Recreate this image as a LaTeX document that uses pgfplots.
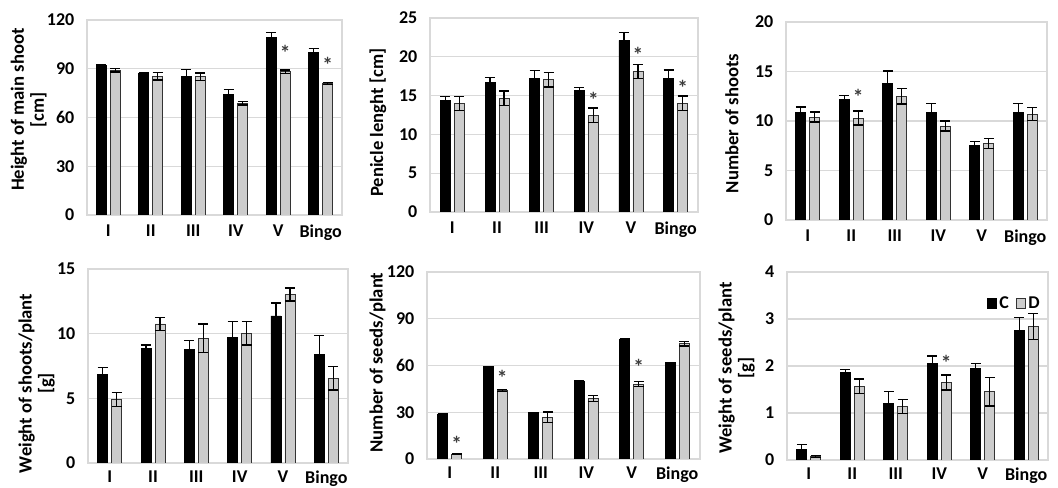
\documentclass[border=0pt]{standalone}
\usepackage{fontspec}
\setmainfont{Carlito}
\usepackage{pgfplots}
\usepackage{pgfplotstable}
\pgfplotsset{compat=1.18}
\definecolor{dgrey}{RGB}{204,204,204}
\definecolor{gridc}{RGB}{217,217,217}
\definecolor{starc}{RGB}{60,60,60}

\pgfplotstableread{
x c ce d de
0 92 0.5 89 1.0
1 87 0.3 85.4 2.3
2 85.5 4 85 2.3
3 74.3 3 68.7 1
4 109.1 3.3 88.2 1.1
5 99.9 2.5 81 0.6
}\tA
\pgfplotstableread{
x c ce d de
0 14.4 0.5 14.0 0.9
1 16.7 0.65 14.65 0.95
2 17.2 1.0 17.05 0.95
3 15.7 0.35 12.45 0.95
4 22.1 1.0 18.1 0.9
5 17.2 1.1 14.0 0.95
}\tB
\pgfplotstableread{
x c ce d de
0 10.9 0.5 10.4 0.5
1 12.2 0.35 10.3 0.7
2 13.8 1.25 12.5 0.8
3 10.9 0.85 9.5 0.5
4 7.5 0.4 7.7 0.5
5 10.9 0.85 10.7 0.65
}\tC
\pgfplotstableread{
x c ce d de
0 6.88 0.5 4.9 0.55
1 8.87 0.25 10.75 0.5
2 8.8 0.67 9.65 1.1
3 9.7 1.24 10.03 0.9
4 11.38 1.0 13.03 0.5
5 8.4 1.45 6.55 0.9
}\tD
\pgfplotstableread{
x c ce d de
0 29 0 3.2 0.5
1 59.3 0 43.9 0.7
2 30 0 26.8 3.3
3 50.1 0 39 1.9
4 77 0 48.1 1.6
5 62 0 73.9 1.4
}\tE
\pgfplotstableread{
x c ce d de
0 0.23 0.1 0.07 0.02
1 1.87 0.06 1.57 0.15
2 1.2 0.26 1.14 0.15
3 2.05 0.16 1.65 0.16
4 1.95 0.1 1.45 0.3
5 2.75 0.28 2.84 0.27
}\tF

\pgfplotsset{
  panel/.style={
    scale only axis, anchor=south west,
    ybar=3pt, bar width=7.5pt,
    xmin=-0.5, xmax=5.5, ymin=0,
    xtick={0,...,5}, xticklabels={I,II,III,IV,V,Bingo},
    major tick length=0pt,
    ymajorgrids, grid style={gridc, line width=0.9pt},
    axis line style={gridc, line width=0.9pt},
    tick label style={font=\fontsize{13.5}{15}\selectfont\bfseries},
    yticklabel style={xshift=-6pt},
    xticklabel style={yshift=-4pt},
    label style={font=\fontsize{14}{15}\selectfont\bfseries, align=center},
    /pgf/number format/assume math mode=true,
  },
  bottomrow/.style={xticklabel style={yshift=2pt}},
  eb/.style={error bars/.cd, y dir=both, y explicit,
    error bar style={black, line width=1pt},
    error mark options={rotate=90, mark size=3.75pt, line width=1pt, black}},
  cbar/.style={fill=black, draw=black, eb},
  dbar/.style={fill=dgrey, draw=black!80, line width=0.6pt, eb},
}
\tikzset{star/.style={font=\fontsize{16}{16}\selectfont\bfseries, text=starc, xshift=5.25pt, inner sep=0pt}}

\begin{document}
\begin{tikzpicture}
\useasboundingbox (0,0) rectangle (793.5pt,366pt);

% Panel 1
\begin{axis}[panel, at={(65.25pt,204.75pt)}, width=191.25pt, height=146.25pt,
  ymax=120, ytick={0,30,60,90,120},
  ylabel={Height of main shoot\\{}{[cm]}},
  ylabel style={at={(axis description cs:-0.229,0.54)}, anchor=center}]
\addplot[cbar] table[x=x, y=c, y error=ce] {\tA};
\addplot[dbar] table[x=x, y=d, y error=de] {\tA};
\node[star] at (axis cs:4,100) {*};
\node[star] at (axis cs:5,92.3) {*};
\end{axis}

% Panel 2
\begin{axis}[panel, at={(322.5pt,207pt)}, width=201pt, height=145.5pt,
  ymax=25, ytick={0,5,10,15,20,25},
  ylabel={Penicle lenght [cm]},
  ylabel style={at={(axis description cs:-0.194,0.46)}, anchor=center}]
\addplot[cbar] table[x=x, y=c, y error=ce] {\tB};
\addplot[dbar] table[x=x, y=d, y error=de] {\tB};
\node[star] at (axis cs:3,14.5) {*};
\node[star] at (axis cs:4,20.3) {*};
\node[star] at (axis cs:5,16.0) {*};
\end{axis}

% Panel 3
\begin{axis}[panel, at={(589.5pt,201pt)}, width=195.75pt, height=148.5pt,
  ymax=20, ytick={0,5,10,15,20},
  ylabel={Number of shoots},
  ylabel style={at={(axis description cs:-0.207,0.488)}, anchor=center}]
\addplot[cbar] table[x=x, y=c, y error=ce] {\tC};
\addplot[dbar] table[x=x, y=d, y error=de] {\tC};
\node[star] at (axis cs:1,12.4) {*};
\end{axis}

% Panel 4
\begin{axis}[panel, bottomrow, at={(66pt,18.75pt)}, width=195pt, height=145.5pt,
  ymax=15, ytick={0,5,10,15},
  ylabel={Weight of shoots/plant\\{}{[g]}},
  ylabel style={at={(axis description cs:-0.197,0.41)}, anchor=center}]
\addplot[cbar] table[x=x, y=c, y error=ce] {\tD};
\addplot[dbar] table[x=x, y=d, y error=de] {\tD};
\end{axis}

% Panel 5
\begin{axis}[panel, bottomrow, at={(320.25pt,21.75pt)}, width=204.75pt, height=140.25pt,
  ymax=120, ytick={0,30,60,90,120},
  ylabel={Number of seeds/plant},
  ylabel style={at={(axis description cs:-0.181,0.516)}, anchor=center}]
\addplot[cbar] table[x=x, y=c, y error=ce] {\tE};
\addplot[dbar] table[x=x, y=d, y error=de] {\tE};
\node[star] at (axis cs:0,9.8) {*};
\node[star] at (axis cs:1,51.8) {*};
\node[star] at (axis cs:4,59.3) {*};
\end{axis}

% Panel 6
\begin{axis}[panel, bottomrow, at={(590.25pt,21pt)}, width=195.75pt, height=141pt,
  ymax=4, ytick={0,1,2,3,4},
  ylabel={Weight of seeds/plant\\{}{[g]}},
  ylabel style={at={(axis description cs:-0.193,0.489)}, anchor=center},
  legend style={draw=none, fill=none, legend columns=2, at={(0.995,0.9)}, anchor=north east,
    font=\fontsize{13.5}{15}\selectfont\bfseries,
    /tikz/every even column/.append style={column sep=3pt}},
  legend image code/.code={\draw[#1] (0pt,-3.5pt) rectangle (7pt,3.5pt);}]
\addplot[forget plot, bar shift=-5.25pt, cbar] table[x=x, y=c, y error=ce] {\tF};
\addplot[forget plot, bar shift=5.25pt, dbar] table[x=x, y=d, y error=de] {\tF};
\addlegendimage{fill=black, draw=black}
\addlegendentry{C}
\addlegendimage{fill=dgrey, draw=black!80, line width=0.6pt}
\addlegendentry{D}
\node[star] at (axis cs:3,2.07) {*};
\end{axis}
\end{tikzpicture}
\end{document}
